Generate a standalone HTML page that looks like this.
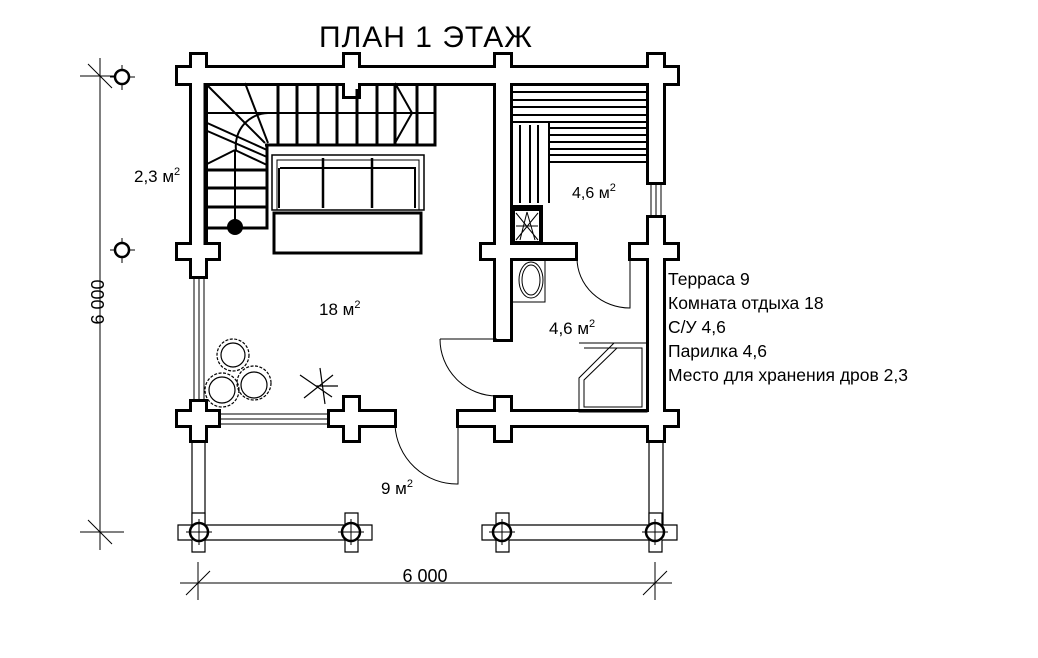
<!DOCTYPE html>
<html><head><meta charset="utf-8"><style>
html,body{margin:0;padding:0;background:#fff;}
svg{display:block;}
text{font-family:"Liberation Sans",sans-serif;fill:#000;}
</style></head><body>
<svg width="1038" height="658" viewBox="0 0 1038 658" xmlns="http://www.w3.org/2000/svg">
<rect width="1038" height="658" fill="#fff"/>
<text x="426" y="47" font-size="30" letter-spacing="1" text-anchor="middle">ПЛАН 1 ЭТАЖ</text>

<!-- dimension lines -->
<g stroke="#000" stroke-width="1" fill="none">
<line x1="100" y1="58" x2="100" y2="550"/>
<line x1="80" y1="76" x2="124" y2="76"/><line x1="88" y1="64" x2="112" y2="88"/>
<line x1="80" y1="532" x2="124" y2="532"/><line x1="88" y1="520" x2="112" y2="544"/>
<line x1="180" y1="583" x2="672" y2="583"/>
<line x1="198" y1="562" x2="198" y2="600"/><line x1="186" y1="595" x2="210" y2="571"/>
<line x1="655" y1="562" x2="655" y2="600"/><line x1="643" y1="595" x2="667" y2="571"/>
<line x1="110" y1="77" x2="135" y2="77"/><line x1="122" y1="65" x2="122" y2="90"/>
<line x1="110" y1="250" x2="135" y2="250"/><line x1="122" y1="238" x2="122" y2="263"/>
</g>
<circle cx="122" cy="77" r="7" fill="#fff" stroke="#000" stroke-width="2.5"/>
<circle cx="122" cy="250" r="7" fill="#fff" stroke="#000" stroke-width="2.5"/>
<text x="425" y="582" font-size="18" text-anchor="middle">6 000</text>
<text transform="translate(104,302) rotate(-90)" font-size="18" text-anchor="middle">6 000</text>

<!-- terrace -->
<g stroke="#000" stroke-width="1.2" fill="#fff">
<rect x="192" y="425" width="13" height="100"/>
<rect x="649" y="425" width="14" height="100"/>
<path d="M178 525 H192 V513 H205 V525 H345 V513 H358 V525 H372 V540 H358 V552 H345 V540 H205 V552 H192 V540 H178 Z"/>
<path d="M482 525 H496 V513 H509 V525 H649 V513 H662 V525 H677 V540 H662 V552 H649 V540 H509 V552 H496 V540 H482 Z"/>
</g>
<g fill="#fff" stroke="#000" stroke-width="2.5">
<circle cx="199" cy="532" r="9"/><circle cx="351" cy="532" r="9"/>
<circle cx="502" cy="532" r="9"/><circle cx="655" cy="532" r="9"/>
</g>
<g stroke="#000" stroke-width="1" fill="none">
<line x1="186" y1="532" x2="212" y2="532"/><line x1="199" y1="519" x2="199" y2="545"/>
<line x1="338" y1="532" x2="364" y2="532"/><line x1="351" y1="519" x2="351" y2="545"/>
<line x1="489" y1="532" x2="515" y2="532"/><line x1="502" y1="519" x2="502" y2="545"/>
<line x1="642" y1="532" x2="668" y2="532"/><line x1="655" y1="519" x2="655" y2="545"/>
</g>

<!-- windows -->
<g stroke="#000" stroke-width="1" fill="#fff">
<rect x="194" y="278" width="10" height="124"/>
<line x1="199" y1="278" x2="199" y2="402"/>
<rect x="218" y="414" width="112" height="10"/>
<line x1="218" y1="419" x2="330" y2="419"/>
<rect x="651" y="183" width="10" height="34"/>
<line x1="656" y1="183" x2="656" y2="217"/>
</g>

<!-- walls -->
<g stroke="#000" stroke-width="6" stroke-linejoin="miter" fill="#000">
<rect x="178" y="68" width="499" height="15"/>
<rect x="192" y="55" width="13" height="41"/><rect x="345" y="55" width="13" height="41"/>
<rect x="496" y="55" width="14" height="41"/><rect x="649" y="55" width="14" height="41"/>
<rect x="192" y="68" width="13" height="208"/>
<rect x="178" y="245" width="40" height="13"/><rect x="192" y="232" width="13" height="40"/>
<rect x="192" y="402" width="13" height="38"/>
<rect x="178" y="412" width="40" height="13"/>
<rect x="330" y="412" width="64" height="13"/><rect x="345" y="398" width="13" height="42"/>
<rect x="459" y="412" width="218" height="13"/>
<rect x="496" y="398" width="14" height="42"/><rect x="649" y="398" width="14" height="42"/>
<rect x="496" y="68" width="14" height="271"/>
<rect x="482" y="245" width="93" height="13"/>
<rect x="631" y="245" width="46" height="13"/>
<rect x="649" y="68" width="14" height="114"/>
<rect x="649" y="218" width="14" height="207"/>
<rect x="345" y="83" width="13" height="6"/>
</g>
<g fill="#fff">
<rect x="178" y="68" width="499" height="15"/>
<rect x="192" y="55" width="13" height="41"/><rect x="345" y="55" width="13" height="41"/>
<rect x="496" y="55" width="14" height="41"/><rect x="649" y="55" width="14" height="41"/>
<rect x="192" y="68" width="13" height="208"/>
<rect x="178" y="245" width="40" height="13"/><rect x="192" y="232" width="13" height="40"/>
<rect x="192" y="402" width="13" height="38"/>
<rect x="178" y="412" width="40" height="13"/>
<rect x="330" y="412" width="64" height="13"/><rect x="345" y="398" width="13" height="42"/>
<rect x="459" y="412" width="218" height="13"/>
<rect x="496" y="398" width="14" height="42"/><rect x="649" y="398" width="14" height="42"/>
<rect x="496" y="68" width="14" height="271"/>
<rect x="482" y="245" width="93" height="13"/>
<rect x="631" y="245" width="46" height="13"/>
<rect x="649" y="68" width="14" height="114"/>
<rect x="649" y="218" width="14" height="207"/>
<rect x="345" y="83" width="13" height="6"/>
</g>

<!-- stairs -->
<g stroke="#000" stroke-width="3" fill="none">
<path d="M205 83 V245 M265 145 H435 V83 M267 145 V228 H205"/>
<line x1="205" y1="113" x2="435" y2="113" stroke-width="2"/>
<path d="M278 83V145 M297 83V145 M318 83V145 M337 83V145 M357 89V145 M377 83V145 M395 83V145 M417 83V145"/>
<path d="M205 170H267 M205 188H267 M205 207H267"/>
<line x1="235" y1="150" x2="235" y2="228" stroke-width="2"/>
</g>
<g stroke="#000" stroke-width="2" fill="none">
<line x1="207" y1="85" x2="265" y2="143"/><line x1="245" y1="83" x2="268" y2="143"/>
<line x1="205" y1="122" x2="267" y2="150"/><line x1="205" y1="130" x2="267" y2="157"/>
<line x1="205" y1="165" x2="235" y2="150"/><line x1="235" y1="150" x2="267" y2="165"/>
<path d="M236 150 A33 33 0 0 1 268 113"/>
<line x1="395" y1="83" x2="412" y2="113"/><line x1="412" y1="113" x2="395" y2="143"/>
</g>
<circle cx="235" cy="227" r="8" fill="#000"/>

<!-- sofa & table -->
<g stroke="#000" fill="none">
<rect x="272" y="155" width="152" height="55" stroke-width="1.5"/>
<rect x="277" y="160" width="142" height="50" stroke-width="1"/>
<path d="M280 168H416 M279 168V208 M415 168V208" stroke-width="2"/>
<path d="M323 158V208 M372 158V208" stroke-width="2.5"/>
<rect x="274" y="213" width="147" height="40" stroke-width="3"/>
</g>

<!-- plants & chair -->
<g stroke="#000" stroke-width="1.2" fill="none">
<circle cx="233" cy="355" r="16" stroke-dasharray="3 1.5"/><circle cx="233" cy="355" r="12"/>
<circle cx="222" cy="390" r="17" stroke-dasharray="3 1.5"/><circle cx="222" cy="390" r="13"/>
<circle cx="254" cy="383" r="17" stroke-dasharray="3 1.5"/><circle cx="254" cy="385" r="13"/>
<path d="M300 375 L332 397 M304 398 L333 375 M320 368 L325 404 M316 386 L338 386"/>
</g>

<!-- sauna -->
<g stroke="#000" stroke-width="2" fill="none">
<path d="M510 92H648 M510 100H648 M510 107H648 M510 115H648 M510 122H648"/>
<path d="M549 128H648 M549 135H648 M549 142H648 M549 149H648 M549 155H648 M549 162H648"/>
<path d="M510 122H549V203 M520 125V203 M530 125V203 M538 125V203"/>
</g>
<rect x="511" y="205" width="32" height="40" fill="#000"/>
<rect x="515" y="211" width="24" height="30" fill="#fff"/>
<g stroke="#000" stroke-width="1" fill="none"><path d="M516 213 L538 240 M538 213 L516 240 M527 212 L520 240 M527 212 L535 240 M516 226 H538"/></g>
<text x="572" y="198" font-size="16">4,6 м<tspan font-size="11" dy="-7">2</tspan></text>

<!-- bathroom -->
<g stroke="#000" fill="none">
<rect x="512" y="260" width="33" height="42" stroke-width="1"/>
<ellipse cx="531" cy="280" rx="12" ry="18" stroke-width="1"/>
<ellipse cx="531" cy="280" rx="9" ry="15" stroke-width="1"/>
<path d="M577 258 A53 50 0 0 0 630 308 V258" stroke-width="1"/>
<path d="M579 343H647V412H579V378L614 343" stroke-width="1"/>
<path d="M584 348H642V407H584V380L617 348" stroke-width="1"/>
<path d="M440 339 A57 57 0 0 0 497 396" stroke-width="1"/>
<line x1="440" y1="339" x2="497" y2="339" stroke-width="1"/>
<path d="M395 425 A62 62 0 0 0 458 484 V425" stroke-width="1"/>
</g>
<text x="549" y="334" font-size="17">4,6 м<tspan font-size="11" dy="-7">2</tspan></text>

<text x="319" y="315" font-size="17">18 м<tspan font-size="11" dy="-7">2</tspan></text>
<text x="134" y="182" font-size="17">2,3 м<tspan font-size="11" dy="-7">2</tspan></text>
<text x="381" y="494" font-size="17">9 м<tspan font-size="11" dy="-7">2</tspan></text>

<g font-size="17.5">
<text x="668" y="285">Терраса 9</text>
<text x="668" y="309">Комната отдыха 18</text>
<text x="668" y="333">С/У 4,6</text>
<text x="668" y="357">Парилка 4,6</text>
<text x="668" y="381">Место для хранения дров 2,3</text>
</g>
</svg>
</body></html>
